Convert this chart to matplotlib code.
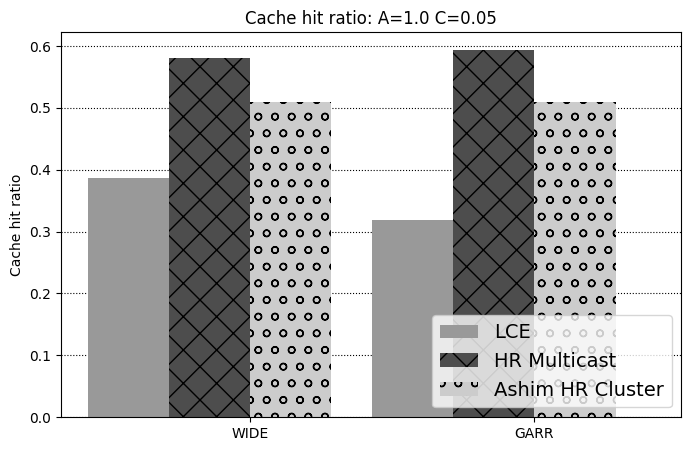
import numpy as np
import matplotlib
matplotlib.use("Agg")
import matplotlib.pyplot as plt

topologies = ["WIDE", "GARR"]
strategies = ["LCE", "HR Multicast", "Ashim HR Cluster"]
lce = [0.386, 0.319]
hr_multicast = [0.580, 0.593]
ashim_hr_cluster = [0.509, 0.509]

colors = ["#999999", "#4d4d4d", "#cccccc"]
hatches = [None, "x", "o"]

ind = np.arange(len(topologies))
width = 1 / 3.5

fig, ax = plt.subplots(figsize=(6.91, 4.51), dpi=100)
ax.set_axisbelow(True)
ax.grid(axis="y", linestyle=":", color="black")

for i, vals in enumerate([lce, hr_multicast, ashim_hr_cluster]):
    ax.bar(ind + i * width, vals, width, align="edge",
           color=colors[i], hatch=hatches[i], label=strategies[i])

ax.set_xticks(ind + 2 * width)
ax.set_xticklabels(topologies)
ax.set_xlim(-0.095, 2.088)
ax.set_ylabel("Cache hit ratio")
ax.set_title("Cache hit ratio: A=1.0 C=0.05")
ax.legend(loc="lower right", fontsize=14)

plt.subplots_adjust(left=0.088, right=0.986, top=0.929, bottom=0.075)
plt.savefig("out.png")
